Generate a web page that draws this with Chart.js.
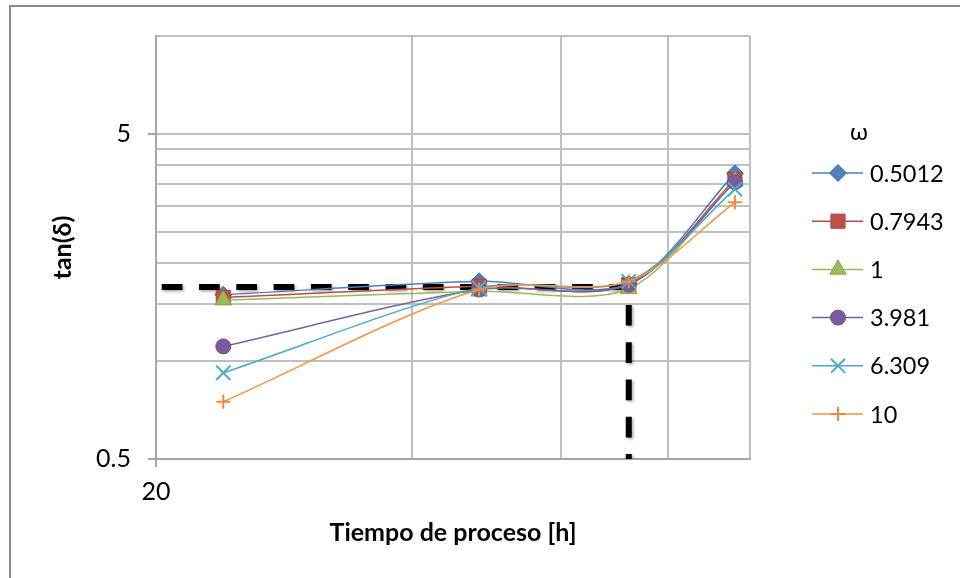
<!DOCTYPE html>
<html>
<head>
<meta charset="utf-8">
<script src="https://cdn.jsdelivr.net/npm/chart.js@4/dist/chart.umd.min.js"></script>
<style>
  html, body { margin: 0; padding: 0; background: #fff; overflow: hidden; }
  #frame { position: absolute; left: 9px; top: 5px; width: 1200px; height: 900px;
           border: 2px solid #8c8c8c; box-sizing: border-box; }
  #c { position: absolute; left: 0; top: 0; }
</style>
</head>
<body>
<div id="frame"></div>
<canvas id="c" width="960" height="578"></canvas>
<script>
// Process time (h) at which tan(delta) was measured
const hours = [24, 48, 72, 96];

// Angular frequencies (legend entries)
const omegaLabels = ['0.5012', '0.7943', '1', '3.981', '6.309', '10'];

// tan(delta) for each frequency
const tanD_w05012 = [1.60, 1.76, 1.73, 3.78];
const tanD_w07943 = [1.57, 1.70, 1.72, 3.62];
const tanD_w1     = [1.54, 1.64, 1.67, 3.58];
const tanD_w3981  = [1.11, 1.66, 1.72, 3.55];
const tanD_w6309  = [0.92, 1.68, 1.76, 3.38];
const tanD_w10    = [0.75, 1.66, 1.76, 3.08];

// Reference level and the process time where it is crossed
const refTanD = 1.69;
const refHours = 72;

// Axis ticks (gridlines) and the ones that carry a label
const xTicks = [20, 40, 60, 80, 100];
const xLabeled = [20];
const yTicks = [0.5, 1, 1.5, 2, 2.5, 3, 3.5, 4, 4.5, 5, 10];
const yLabeled = [0.5, 5];

const seriesValues = [tanD_w05012, tanD_w07943, tanD_w1, tanD_w3981, tanD_w6309, tanD_w10];

const seriesStyle = [
  { line: '#4A7EBB', fill: '#4F81BD', edge: '#3F6EA6', pointStyle: 'rectRot',  radius: 8.5, bw: 1 },
  { line: '#BE4B48', fill: '#C0504D', edge: '#A84441', pointStyle: 'rect',     radius: 10,  bw: 1 },
  { line: '#98B954', fill: '#9BBB59', edge: '#86A34B', pointStyle: 'triangle', radius: 9.5, bw: 1 },
  { line: '#7D60A0', fill: '#7A5B9E', edge: '#6A5089', pointStyle: 'circle',   radius: 7.5, bw: 1 },
  { line: '#46AAC5', fill: '#4BACC6', edge: '#4BACC6', pointStyle: 'crossRot', radius: 10,  bw: 2 },
  { line: '#F69240', fill: '#F79646', edge: '#F08A3A', pointStyle: 'cross',    radius: 7,   bw: 2 }
];

const FONT = 'Lato, "Noto Sans", "DejaVu Sans", sans-serif';
const FS_TICK = 25;
const FS_LEGEND = 23.5;
const FS_TITLE = 25;
const GRID = '#BFBFBF';
const AXIS = '#A6A6A6';

const datasets = seriesValues.map((vals, i) => {
  const s = seriesStyle[i];
  return {
    label: omegaLabels[i],
    data: hours.map((h, k) => ({ x: h, y: vals[k] })),
    borderColor: s.line,
    borderWidth: 1.5,
    backgroundColor: s.fill,
    pointBackgroundColor: s.fill,
    pointBorderColor: s.edge,
    pointBorderWidth: s.bw,
    pointStyle: s.pointStyle,
    pointRadius: s.radius,
    pointHoverRadius: s.radius,
    tension: 0.3,
    fill: false,
    order: seriesValues.length - i,
    isSeries: true
  };
});

// Dashed guide: level line up to the crossing time, then down to the axis
datasets.push({
  label: 'ref',
  data: [{ x: xTicks[0], y: refTanD }, { x: refHours, y: refTanD }, { x: refHours, y: yTicks[0] }],
  borderColor: '#000',
  borderWidth: 6,
  borderDash: [20.7, 16.6],
  borderDashOffset: 31.6,
  borderCapStyle: 'butt',
  pointRadius: 0,
  tension: 0,
  fill: false,
  order: 20,
  isRef: true
});

const shadowPlugin = {
  id: 'refShadow',
  beforeDatasetDraw(chart, args) {
    if (chart.data.datasets[args.index].isRef) {
      const ctx = chart.ctx;
      ctx.save();
      ctx.shadowColor = 'rgba(0,0,0,0.35)';
      ctx.shadowBlur = 3;
      ctx.shadowOffsetX = 1.5;
      ctx.shadowOffsetY = 1.5;
    }
  },
  afterDatasetDraw(chart, args) {
    if (chart.data.datasets[args.index].isRef) chart.ctx.restore();
  }
};

function drawMarker(ctx, ds, x, y) {
  const opts = { pointStyle: ds.pointStyle, rotation: 0, radius: ds.pointRadius, borderWidth: ds.pointBorderWidth };
  ctx.fillStyle = ds.pointBackgroundColor;
  ctx.strokeStyle = ds.pointBorderColor;
  ctx.lineWidth = ds.pointBorderWidth;
  Chart.helpers.drawPoint(ctx, opts, x, y);
}

// Legend: a line segment with the series marker, then the frequency value
const legendPlugin = {
  id: 'omegaLegend',
  afterDraw(chart) {
    const ctx = chart.ctx;
    ctx.save();
    ctx.fillStyle = '#000';
    ctx.font = FS_LEGEND + 'px ' + FONT;
    ctx.textAlign = 'center';
    ctx.textBaseline = 'alphabetic';
    ctx.fillText('ω', 859, 140);
    const x0 = 812, x1 = 863, xm = 838, xt = 870, y0 = 173, dy = 48.2;
    chart.data.datasets.filter(d => d.isSeries).forEach((ds, i) => {
      const y = y0 + i * dy;
      ctx.strokeStyle = ds.borderColor;
      ctx.lineWidth = 1.5;
      ctx.beginPath();
      ctx.moveTo(x0, y);
      ctx.lineTo(x1, y);
      ctx.stroke();
      drawMarker(ctx, ds, xm, y);
      ctx.fillStyle = '#000';
      ctx.textAlign = 'left';
      ctx.textBaseline = 'alphabetic';
      ctx.font = FS_LEGEND + 'px ' + FONT;
      ctx.fillText(ds.label, xt, y + 8.5);
    });
    ctx.restore();
  }
};

new Chart(document.getElementById('c'), {
  type: 'line',
  data: { datasets },
  options: {
    responsive: false,
    devicePixelRatio: 1,
    animation: false,
    events: [],
    layout: { padding: { left: 0, top: 36, right: 210, bottom: 0 } },
    plugins: { legend: { display: false }, tooltip: { enabled: false }, title: { display: false } },
    scales: {
      x: {
        type: 'logarithmic',
        min: xTicks[0],
        max: xTicks[xTicks.length - 1],
        afterBuildTicks: s => { s.ticks = xTicks.map(v => ({ value: v })); },
        afterFit: s => { s.height = 119; },
        grid: {
          color: GRID, lineWidth: 2, drawTicks: true, tickLength: 8,
          tickColor: c => (c.tick && xLabeled.includes(c.tick.value)) ? AXIS : 'rgba(0,0,0,0)'
        },
        border: { color: AXIS, width: 2 },
        ticks: {
          autoSkip: false, maxRotation: 0, padding: 10, color: '#000',
          font: { family: FONT, size: FS_TICK },
          callback: v => xLabeled.includes(v) ? String(v) : ''
        },
        title: {
          display: true, text: 'Tiempo de proceso [h]', color: '#000',
          font: { family: FONT, size: FS_TITLE, weight: 'bold' },
          padding: { top: 0, bottom: 30 }
        }
      },
      y: {
        type: 'logarithmic',
        min: yTicks[0],
        max: yTicks[yTicks.length - 1],
        afterBuildTicks: s => { s.ticks = yTicks.map(v => ({ value: v })); },
        afterFit: s => { s.width = 156; },
        grid: {
          color: GRID, lineWidth: 2, drawTicks: true, tickLength: 8,
          tickColor: c => (c.tick && yLabeled.includes(c.tick.value)) ? AXIS : 'rgba(0,0,0,0)'
        },
        border: { color: AXIS, width: 2 },
        ticks: {
          autoSkip: false, padding: 17, color: '#000',
          font: { family: FONT, size: FS_TICK },
          callback: v => yLabeled.includes(v) ? String(v) : ''
        },
        title: {
          display: true, text: 'tan(δ)', color: '#000',
          font: { family: FONT, size: FS_TITLE, weight: 'bold' },
          padding: { top: 48, bottom: 0 }
        }
      }
    }
  },
  plugins: [shadowPlugin, legendPlugin]
});
</script>
</body>
</html>
